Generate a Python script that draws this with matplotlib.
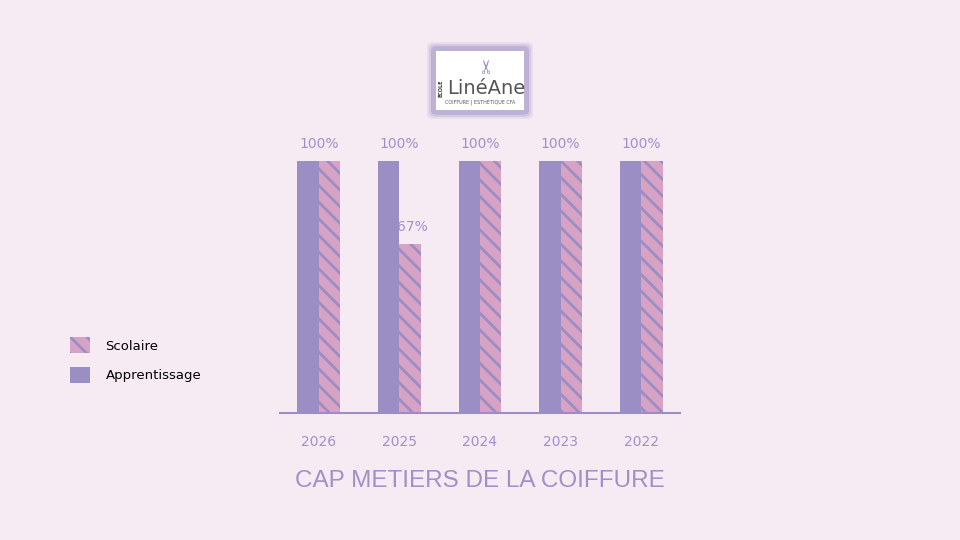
import matplotlib
matplotlib.use("Agg")
import matplotlib.pyplot as plt
import numpy as np
from matplotlib.patches import Patch, FancyBboxPatch

years = ["2026", "2025", "2024", "2023", "2022"]
apprentissage = [100, 100, 100, 100, 100]
scolaire = [100, 67, 100, 100, 100]

BG = "#f7ebf3"
PURPLE = "#9b8ec4"
PINK = "#d7a2c3"
TXT = "#a090c8"

plt.rcParams["hatch.linewidth"] = 2.0

fig = plt.figure(figsize=(9.6, 5.4), dpi=100, facecolor=BG)
ax = fig.add_axes([280 / 960, 127 / 540, 400 / 960, 252 / 540], facecolor=BG)

x = np.arange(len(years))
w = 0.265
ax.bar(x - w / 2, apprentissage, w, color=PURPLE, label="Apprentissage")
ax.bar(x + w / 2, scolaire, w, facecolor=PINK, hatch="\\\\", edgecolor=PURPLE,
       linewidth=0, label="Scolaire")

for i, (a, s) in enumerate(zip(apprentissage, scolaire)):
    ax.text(i, a + 4, f"{a}%", ha="center", va="bottom", color=TXT, fontsize=10)
    if a != s:
        ax.text(i + w * 0.6, s + 4, f"{s}%", ha="center", va="bottom", color=TXT, fontsize=10)

ax.set_xlim(-0.48, 4.48)
ax.set_ylim(0, 100)
ax.set_xticks(x)
ax.set_xticklabels(years, color=TXT, fontsize=10)
ax.tick_params(axis="x", length=0, pad=16)
ax.set_yticks([])
for s in ["top", "right", "left"]:
    ax.spines[s].set_visible(False)
ax.spines["bottom"].set_color(PURPLE)
ax.spines["bottom"].set_linewidth(1.5)

handles = [Patch(facecolor=PINK, hatch="\\\\", edgecolor=PURPLE, linewidth=0, label="Scolaire"),
           Patch(facecolor=PURPLE, label="Apprentissage")]
fig.legend(handles=handles, loc="center left", bbox_to_anchor=(58 / 960, 1 - 360 / 540),
           frameon=False, fontsize=9.5, handlelength=1.5, handleheight=1.5,
           labelspacing=1.0, handletextpad=1.2)

fig.text(480 / 960, 1 - 481 / 540, "CAP METIERS DE LA COIFFURE", ha="center", va="center",
         color=TXT, fontsize=17.5, family=["Liberation Sans Narrow", "Liberation Sans"])

# logo
for k, a in zip([6, 4, 2], [0.15, 0.25, 0.4]):
    fig.patches.append(FancyBboxPatch(((433 - k) / 960, 1 - (113 + k) / 540),
                                      (94 + 2 * k) / 960, (65 + 2 * k) / 540,
                                      boxstyle="round,pad=0,rounding_size=0.008",
                                      transform=fig.transFigure, facecolor=PURPLE,
                                      edgecolor="none", alpha=a))
fig.patches.append(FancyBboxPatch((436 / 960, 1 - 110 / 540), 88 / 960, 59 / 540,
                                  boxstyle="square,pad=0", transform=fig.transFigure,
                                  facecolor="white", edgecolor="none"))
fig.text(486 / 960, 1 - 88 / 540, "LinéAne", ha="center", va="center", color="#555555",
         fontsize=14)
fig.text(441 / 960, 1 - 88 / 540, "ÉCOLE", ha="center", va="center", color="#333333",
         fontsize=3.5, rotation=90, weight="bold")
fig.text(480 / 960, 1 - 102 / 540, "COIFFURE | ESTHÉTIQUE CFA", ha="center", va="center",
         color="#555555", fontsize=3.5)
fig.text(488 / 960, 1 - 66 / 540, "✂", ha="center", va="center", color=PURPLE,
         fontsize=14, rotation=90)

fig.savefig("out.png", dpi=100, facecolor=BG)
